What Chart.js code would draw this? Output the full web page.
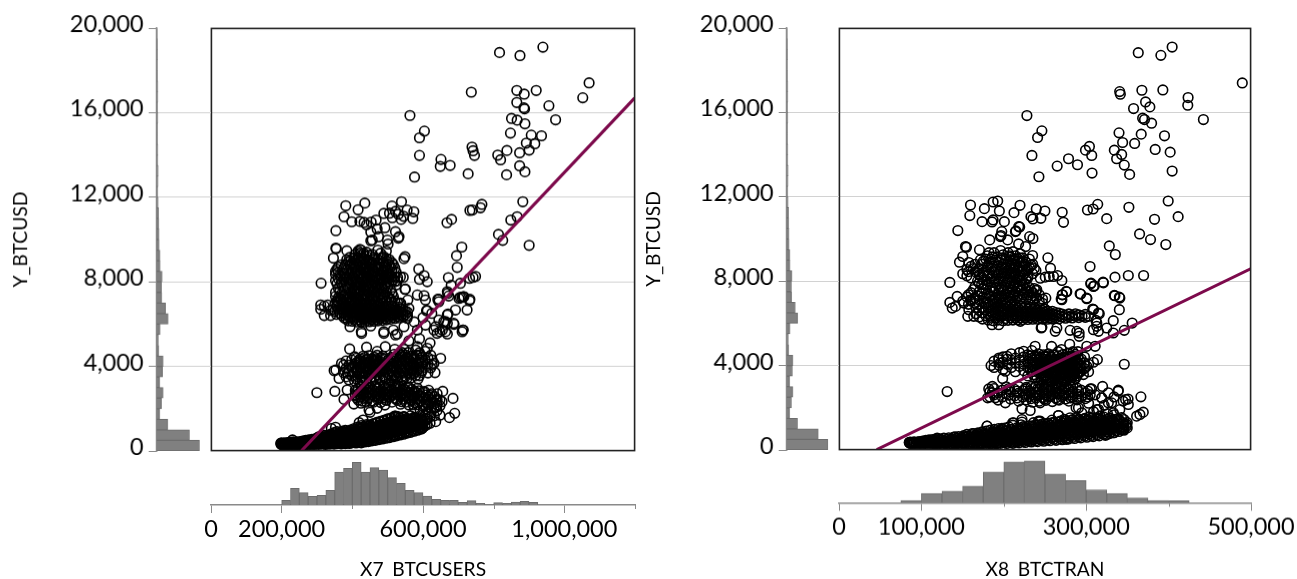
<!DOCTYPE html>
<html><head><meta charset="utf-8">
<script src="https://cdn.jsdelivr.net/npm/chart.js@4"></script>
<style>html,body{margin:0;padding:0;background:#fff;width:1297px;height:579px;overflow:hidden}canvas{position:absolute}</style>
</head><body>
<script>
// x in thousands, y in USD
const sparse7=[[817,18860],[875,18717],[940,19112],[1071,17423],[1053,16713],[737,16981],[866,17060],[887,16887],[921,17060],[866,16492],[957,16334],[886,16240],[888,16190],[976,15672],[563,15877],[604,15135],[590,14820],[590,13983],[576,12958],[851,15735],[867,15656],[889,15482],[848,15040],[907,14946],[936,14914],[917,14536],[893,14567],[901,14236],[874,14110],[838,14220],[812,13999],[820,13778],[874,13494],[889,13210],[837,13068],[739,14378],[742,14204],[746,13983],[651,13794],[649,13463],[677,13510],[728,13116],[883,11790],[867,11080],[849,10922],[814,10243],[826,9960],[901,9723],[767,11664],[763,11506],[740,11395],[733,11380],[681,10954],[668,10796],[710,9644],[695,9233],[697,8681],[749,8255],[742,8207],[732,8160],[672,8192],[680,7829],[706,7924],[670,7450],[645,7166],[706,7260],[714,7290],[733,7166],
[381,11600],[416,11411],[435,11727],[376,11080],[398,10843],[421,10860],[433,10811],[453,10827],[467,10922],[489,11237],[512,11585],[539,11790],[522,11332],[555,11395],[574,11316],[571,11000],[538,10954],[513,11032],[353,10417],[452,10354],[492,10560],[522,10370],[474,10133],[530,10070],[532,10133],[452,9944],[456,9975],[499,9975],[501,9786],[353,9596],[354,9565],[384,9470],[346,9120],[421,9533],[549,9186],[546,9091],[588,8602],[603,8287],[612,8000],[590,8113],[550,7655],[584,7372],[603,7340],[311,7930],[505,11250],[530,11200],[545,11100],[440,10700],[470,10500],
[549,7640],[607,7135],[557,7135],[537,6977],[560,6740],[610,6630],[642,7166],[669,7529],[673,7324],[702,7213],[716,7292],[692,6661],[669,6424],[645,6188],[725,6661],[687,6030],[714,5715],[636,5872],[655,5715],[607,5950],[584,5715],[659,6109],[555,6267],[546,5872],[516,5715],[669,6030],[425,5636],[393,5872],[452,5904],[489,5636],[426,5556],[489,5556],[522,5477],[527,5525],[640,5556],[669,5525],[711,5635],[711,7261],[732,7103],[671,6472],[645,7056],[612,6630],[664,6109],[688,5983],[713,5714],[664,5636],[648,5636],[631,5714],[575,6100],[600,6300],[625,6500],[590,5300],[560,5200],[620,5100],
[392,4815],[299,2747],[350,2810],[376,2432],[404,2211],[447,1927],[450,1816],[470,2006],[492,2163],[520,1643],[493,4925],[584,4925],[612,4846],[650,4373],[631,4136],[634,3694],[586,3394],[546,4799],[656,2811],[685,2479],[654,2321],[640,2163],[690,1769],[675,1564],[636,1375],[614,1848],[385,2874],[353,3820],[348,3789],[362,3426],[369,4136],[387,3663],[626,4294],[579,4768],[591,4531],[574,3900],[626,4057],[598,1059],[631,2006],[352,1106],[340,1050],[419,1327],[430,1450],[522,1643],[546,1611],[230,507],[440,4900],[520,4800],[540,4650],[470,4700]];
const dense7=[[197,[310,350]],[199,[290,370]],[202,[320,280]],[205,[350,300]],[208,[300,370]],[211,[330,290]],[214,[360,310]],[217,[300,380]],[220,[340,290]],[223,[310,400]],[226,[350,300]],[229,[290,380]],[232,[320,420]],[234,[360,300]],[237,[310,390]],[240,[340,290]],[243,[300,410]],[246,[360,310]],[249,[290,380]],[252,[330,430]],[255,[300,370]],[258,[350,450]],[261,[310,390]],[264,[290,430]],[267,[360,490,310]],[270,[320,420]],[273,[290,450]],[276,[350,510]],[279,[310,400]],[282,[300,470]],[285,[370,530]],[288,[320,440]],[291,[290,500]],[294,[380,560]],[297,[310,450]],[300,[340,600]],
[304,[300,420,530,650]],[308,[370,480,610]],[312,[310,440,560,680]],[316,[350,500,640]],[320,[320,430,590,720]],[324,[290,460,550]],[328,[380,510,660]],[332,[330,450,600,740]],[336,[310,530,690]],[340,[400,490,630,790]],[344,[340,570,720]],[348,[310,460,650,850]],[352,[380,540,760]],[356,[330,490,620,900]],[360,[420,580,740]],[364,[350,510,680,860]],[368,[320,470,610,790]],[372,[400,560,720,920]],[376,[360,490,650,830]],[380,[330,540,760,960]],[384,[430,620,870]],[388,[370,520,700,930]],[392,[340,480,650,810]],[396,[420,580,760,990]],[400,[380,530,690,880]],
[405,[420,600,780,1050]],[410,[360,510,700,920]],[415,[450,640,840,1120]],[420,[400,570,760,1010]],[425,[370,520,690,900,1190]],[430,[460,630,830,1080]],[435,[410,570,750,980]],[440,[490,680,890,1240]],[445,[430,600,800,1060]],[450,[510,720,930,1180]],[455,[460,650,840,1120]],[460,[540,760,980,1260]],[465,[490,690,890,1110]],[470,[570,800,1030,1300]],[475,[520,730,940,1180]],[480,[600,830,1070,1360]],[485,[550,770,1000,1240]],[490,[640,880,1120,1420]],[495,[590,810,1050,1290]],[500,[670,920,1170,1490]],[505,[620,860,1100,1350]],[510,[710,950,1210,1530]],[515,[660,900,1140,1410]],[520,[750,1000,1260,1570]],[525,[700,940,1190,1460]],[530,[790,1040,1300]],[535,[740,980,1230,1560]],[540,[830,1080,1340]],[545,[780,1030,1270,1600]],[550,[880,1120,1390]],[555,[830,1070,1320]],[560,[920,1160,1430]],[565,[870,1110,1370,1650]],[570,[960,1210,1480]],[575,[920,1150,1420]],[580,[1000,1250,1520]],[585,[970,1200,1460]],[590,[1060,1300,1560]],[595,[1020,1250,1400]],[600,[1110,1350]],[606,[1180,1420,1680]],[612,[1240,1500]],[620,[1300,1600]],
// band near 2,600
[408,[2600,2850]],[416,[2400,2700,2950]],[424,[2250,2550,2800,3050]],[432,[2480,2720,2950]],[440,[2300,2620,2880]],[448,[2520,2760,3000]],[456,[2350,2650,2900]],[464,[2560,2800,3080]],[472,[2420,2700,2950]],[480,[2280,2600,2840]],[488,[2500,2760,3020]],[496,[2380,2660,2900]],[504,[2550,2800,3100]],[512,[2300,2620,2880]],[520,[2480,2720,2960,3150]],[528,[2380,2660,2900]],[536,[2200,2540,2800,3020]],[544,[2440,2700,2950]],[552,[2300,2600,2850]],[560,[2160,2480,2740,3000]],[568,[2380,2640,2900]],[576,[2020,2280,2560,2820]],[584,[2180,2460,2720,2960]],[592,[1900,2340,2600]],[600,[1700,2100,2480,2780]],[608,[1980,2300,2640]],[616,[1750,2180,2540,2860]],[624,[2020,2380,2700]],[632,[1650,2240,2560]],[640,[1900,2420,2700]],[648,[1680,2120,2400]],
// lump near 4,000
[375,[3700,4050]],[382,[3500,3900,4250]],[390,[3350,3750,4050]],[398,[3550,3950,4300]],[406,[3300,3700,4100,4450]],[414,[3500,3850,4200]],[422,[3250,3620,3980,4350]],[430,[3450,3780,4120,4480]],[438,[3350,3680,4020,4300]],[446,[3550,3880,4200,4500]],[454,[3300,3650,3980,4350]],[462,[3480,3800,4120,4430]],[470,[3600,3930,4260,4520]],[478,[3350,3720,4050,4380]],[486,[3550,3870,4180,4480]],[494,[3420,3760,4090,4360]],[502,[3650,3980,4280]],[510,[3350,3780,4100,4420]],[518,[3550,3900,4240,4560]],[526,[3430,3750,4070,4380]],[534,[3620,3950,4280,4600]],[542,[3350,3780,4120,4450]],[550,[3520,3860,4200,4530]],[558,[3680,4000,4340,4650]],[566,[3450,3830,4160,4480]],[574,[3650,4050,4400]],[582,[3760,4130,4520]],[590,[3550,3950,4290,4640]],[598,[3800,4180,4450]],[606,[3950,4320,4700]],[614,[3680,4100,4400]],[622,[3920,4520]],
// lower band of the upper cluster
[345,[6700]],[350,[6600,6950]],[355,[6820,6450]],[360,[6700,7000]],[365,[6500,6850]],[370,[6950,6400,6700]],[376,[6300,6520,6660,6810,6950]],[382,[6240,6440,6600,6760,6900]],[388,[6150,6360,6550,6700,6860]],[394,[6280,6480,6640,6800,6970]],[400,[6130,6340,6520,6690,6880]],[406,[6230,6420,6590,6770,6930]],[412,[6100,6320,6490,6660,6840]],[418,[6200,6400,6560,6730,6910]],[424,[6120,6300,6470,6630,6800,6960]],[430,[6220,6390,6540,6710,6880]],[436,[6100,6280,6450,6610,6780,6940]],[442,[6190,6360,6520,6680,6850]],[448,[6110,6270,6430,6590,6750,6920]],[454,[6210,6380,6540,6700,6870]],[460,[6130,6300,6460,6620,6790,6950]],[466,[6230,6400,6560,6720,6890]],[472,[6150,6320,6480,6640,6810]],[478,[6250,6420,6580,6750,6920]],[484,[6170,6340,6500,6660,6830]],[490,[6270,6430,6600,6770]],[496,[6200,6360,6520,6690,6860]],[502,[6290,6460,6620,6790]],[508,[6230,6390,6550,6720]],[514,[6320,6480,6650,6830]],[520,[6260,6420,6580,6750]],[526,[6350,6510,6680]],[532,[6290,6450,6620,6800]],[538,[6400,6560,6720]],[544,[6340,6500,6670]],[550,[6450,6620]],[556,[6380,6560]],
// core of the upper cluster
[352,[8500,8350,8050,7500,7300]],[360,[8700,8450,8150,7700,7250,7050]],[368,[8800,8250,7950,7400,7150]],[376,[8650,8400,8100,7600,7300,7000]],[384,[9050,8550,8200,7800,7450,7150]],[392,[9150,8800,8350,7950,7650,7250,7000]],[400,[8900,8600,8300,8000,7700,7400,7100]],[408,[9300,9000,8650,8400,8150,7850,7550,7250,7050]],[416,[9450,9150,8850,8550,8250,7950,7700,7400,7150]],[424,[9500,9250,9000,8700,8450,8200,7900,7600,7300,7050]],[432,[9350,9100,8800,8550,8300,8050,7750,7450,7200]],[440,[9400,9200,8950,8650,8400,8150,7850,7550,7300,7000]],[448,[9250,9000,8700,8450,8200,7950,7650,7400,7100]],[456,[9300,8900,8600,8350,8100,7800,7500,7200]],[464,[9150,8800,8500,8250,8000,7700,7350,7050]],[472,[9500,9050,8700,8400,8150,7900,7550,7250]],[480,[9350,9000,8650,8350,8100,7850,7450,7100]],[488,[9200,8900,8550,8300,8050,7650,7300]],[496,[9450,9100,8750,8450,8150,7900,7500,7100]],[504,[9050,8800,8400,8200,8000,7250]],[512,[8900,8600,8250,8050,7450,7050]],[520,[8650,8230,8000,7100]],[528,[8200,8050,7000]],[536,[8230,6990]],[544,[8210]]];
const more7=[[303,[380,470,560]],[309,[340,450,580]],[315,[400,520]],[321,[370,480,640]],[327,[340,560,460]],[333,[410,520,650]],[339,[350,470,590]],[345,[420,540,680]],[351,[360,480,610,720]],[357,[430,550,700]],[363,[390,500,640,780]],[369,[450,570,690]],[375,[410,530,740,880]],[381,[470,600,710]],[387,[430,570,780,890]],[393,[500,620,750]],[399,[450,590,820,950]],[404,[530,670,800]],[409,[470,620,860,1000]],[414,[550,700,900]],[419,[490,650,820,1060]],[424,[580,740,950]],[429,[520,680,870,1120]],[434,[610,780,1000]],[439,[550,720,920,1180]],[444,[640,820,1040]],[449,[590,760,970,1220]],[454,[680,860,1080]],[459,[620,800,1020,1280]],[464,[720,900,1120]],[469,[660,840,1070,1340]],[474,[760,950,1170]],[479,[700,890,1120,1390]],[484,[800,1000,1220]],[489,[740,940,1170,1440]],[494,[850,1040,1260]],[499,[790,990,1220,1500]],[504,[890,1090,1310]],[509,[830,1030,1270,1540]],[514,[930,1130,1350]],[519,[880,1080,1320,1590]],[524,[970,1180,1400]],[529,[920,1120,1360,1620]],[534,[1020,1220,1440]],[539,[960,1170,1400]],[544,[1060,1260,1480]],[549,[1010,1210,1440]],[554,[1110,1310,1530]],[559,[1050,1260,1480]],[564,[1150,1350]],[569,[1100,1300,1530]],[574,[1190,1390]],[579,[1140,1340,1570]],[584,[1230,1430]],[589,[1180,1380]],[594,[1280,1470]],[599,[1230,1420]],
[411,[3400,3780,4150,4380]],[419,[3620,3980,4280]],[427,[3320,3700,4050]],[435,[3520,3900,4220,4420]],[443,[3720,3990,4350]],[451,[3450,3820,4120]],[459,[3680,3950,4280]],[467,[3380,3730,4080,4360]],[475,[3580,3870,4190]],[483,[3780,4020,4400]],[491,[3480,3820,4130]],[507,[3580,3900,4200]],[515,[3720,4020,4380]],[523,[3480,3820,4150]],[531,[3700,4000,4330]],[539,[3500,3880,4200,4520]],[547,[3680,3980,4300]],[555,[3430,3780,4120,4420]],[563,[3620,3930,4260]],[571,[3780,4080,4500]],[579,[3550,3950,4300]],[587,[3850,4200]],[595,[3700,4100,4380]],
[412,[2500,2780]],[428,[2350,2650,2900]],[444,[2450,2720,2980]],[460,[2300,2600,2860]],[476,[2500,2780,3030]],[492,[2420,2700,2960]],[508,[2560,2830,3000]],[524,[2440,2780,3060]],[540,[2320,2620,2880]],[556,[2520,2780,2960]],[572,[2180,2500,2760]],[588,[2300,2600,2840]],[604,[2180,2520,2800]],[620,[2280,2620]],[636,[2030,2400]],
[356,[8600,7900,7100]],[364,[8300,7550,7200]],[372,[8550,8000,7300]],[380,[8800,8250,7700,7150]],[388,[8950,8400,7700,7300]],[396,[9000,8450,8100,7500,7150]],[404,[9100,8750,8200,7600,7300]],[412,[8800,8500,8000,7650,7200]],[420,[9350,8950,8350,7800,7500]],[428,[9100,8600,8100,7750,7200]],[436,[8900,8450,7950,7650,7350]],[444,[9050,8550,8050,7700,7200]],[452,[8850,8300,7900,7350]],[460,[9050,8500,8000,7600,7300]],[468,[8650,8200,7850,7500]],[476,[8850,8550,8050,7700,7400]],[484,[9150,8450,8200,7750,7250]],[492,[8700,8200,7800,7400]],[500,[8950,8600,8250,7750,7300]],[508,[8700,8300,7600,7150]],[516,[8800,8100,7300]],[524,[8450,7850]],[330,[6900]],[338,[6650,6400]],[310,[6700,6900]],[320,[6400,6850]]];

const sparse8=[[363.4,18846],[390.9,18720],[404.6,19115],[489.9,17410],[424,16715],[423.6,16352],[442.6,15672],[340.8,16999],[341.6,16873],[367.8,17062],[393.3,17078],[372.3,16509],[377.5,16273],[357.7,16194],[368.7,15736],[371,15672],[379.6,15499],[340,15040],[367,14978],[395.3,14899],[344.4,14583],[359,14536],[334.3,14220],[384,14252],[402.2,14125],[343.2,14015],[337.1,13810],[346.4,13509],[352.9,13067],[404.6,13225],[228,15862],[246.2,15136],[241,14820],[234.1,13967],[242.6,12957],[264.8,13462],[278.6,13810],[289.5,13525],[299.2,14220],[304,14394],[306.8,13967],[307.2,13130],
[399.8,11804],[352,11504],[411.9,11062],[383.2,10936],[325,10967],[314.1,11646],[308.5,11425],[301.6,11378],[270.9,11267],[272.5,10793],[249.9,11330],[239.4,11425],[245,10983],[232.9,11062],[235.3,10951],[219.6,11599],[212.3,11251],[192.5,11804],[186.9,11757],[176.3,11441],[194.5,11330],[200.6,10825],[186.9,10904],[185.6,10809],[173.5,10825],[219.2,10572],[214.7,10383],[197.4,10351],[365,10241],[378.3,9972],[396.9,9735],[328.2,9672],[335.5,9262],[304.8,8693],[253.5,9104],[234.9,9214],[231.3,10114],[235.3,10020],[226.4,9641],[217.9,9767],[204.6,9957],[195.7,10114],[182.8,9957],[256.7,8614],[265.2,8267],[260.4,8220],[255.1,8220],[250.3,8188],[244.2,8140],[229.3,8251],[270.5,8030],[335.1,8188],[351.3,8267],[369.9,8267],[321,7920],[310,7778],[305.6,7872],[276.5,7493],[270.9,7351],[293.5,7383],[300.8,7193],[334.3,7320],[340.4,7241],
[159.4,11615],[158.6,11110],[144,10400],[218,10589],[214,10352],[196.5,10163],[153.3,9642],[154.5,9610],[170.3,9484],[150,9168],[146,8900],[157.4,8884],[171.5,9010],[134.3,7936],[306,7905],[308.9,7747],[320.6,7952],[275.7,7510],[271.3,7352],[269.7,7147],[251,7194],[240,7589],[143.2,7273],[134.3,6989],[137.2,6721],[141.2,6800],[151.3,6957],[159.4,7115],[157.4,6642],[156.1,6326],[163.4,6326],[308,6673],[316,6452],[312,6136],[246.2,5805],[264.4,5773],[185.6,5931],[193.7,5931],[220,6089],[280.6,5663],[288.7,5615],[308.9,5694],[312.9,5852],[325,5773],[262.4,5615],
[335,7305],[341,7194],[340.4,6642],[333,6120],[315,6484],[309,6642],[313,6010],[315,5615],[356,6010],[346.4,5663],[333,5536],[346.4,4052],[300.8,4905],[311,4905],[292.7,7400],[300.8,7163],[270.5,7115],[245.4,5773],[291.5,5536],[291.5,5378],[313.7,4273],[308.9,4147],[300.8,3957],[296.7,3563],
[339.2,2820],[366.6,2505],[348,2378],[351.3,2142],[369.5,1778],[365.4,1668],[361.4,1589],[349.3,1115],[345,957],[306.8,2883],[288.7,2931],[319,2457],[331,2220],[315,1905],[290.7,1984],[266.4,1620],[275.7,484],[325,720],[333,800],[179.6,1115],[197.8,957],[210.7,1273],[222,1305],[244.2,1352],
[184.4,3989],[193.7,4273],[195.5,4110],[203.8,4431],[238,4904],[224,4668],[201.8,3720],[198.5,3373],[131,2757],[181.6,2883],[180.3,2457],[189.6,2457],[201.8,2220],[222,1936],[232,1857],[244,2220],[287.8,1983],[258,4900],[270,4750],[290,4650],[280,5000],
[318.9,2457],[313,1905],[327,2220],[333,1747],[339,2772],[345,2300],[351,2400],[317,1600],[337,1430],[349,1200],[345,957],[285,3300],[320,3000],[327,2700],[334,2500],[311,2600],[322,2100],[341,1900],[329,1500],[309,1800],[303,2200],[118.9,550],[141,600],[161.4,760],[179.5,1115],[197.7,1004],[211.9,1273],[222,1430],[242,1352],[266.4,1620],[280.5,1510],[294.7,1747]];
const dense8=[[85,[320,350]],[86.5,[290,360]],[88,[330,300]],[89.5,[350,310]],[91,[300,370]],[93,[330,290]],[95,[360,310]],[97,[300,380]],[99,[340,290]],[101,[310,400]],[103,[350,300]],[105,[290,380,440]],[107,[320,420]],[109,[360,300,460]],[111,[310,390]],[113,[340,290,480]],[115,[300,410]],[117,[360,260,470]],[119,[290,380,520]],[121,[330,430]],[123,[300,370,500]],[125,[250,350,450]],[127,[310,390,550]],[129,[290,430]],[131,[360,490,310]],[133,[250,420,560]],[135,[290,450]],[137,[350,510,270]],[139,[310,400,590]],[141,[260,470]],[143,[370,530,300]],[145,[320,440,620]],[147,[250,500]],[149,[380,560,290]],[151,[310,450,660]],[153,[260,340,600]],[155,[400,520,720]],[157,[290,450,640]],[159,[260,370,580]],[161,[330,500,700]],
[163.5,[280,420,620,760]],[166,[350,540,680]],[168.5,[260,450,600,790]],[171,[310,500,720]],[173.5,[270,430,630,840]],[176,[360,560,760]],[178.5,[290,470,680,880]],[181,[330,530,800]],[183.5,[270,440,640,930]],[186,[370,590,770]],[188.5,[310,500,700,960]],[191,[280,430,630,850]],[193.5,[350,560,760,1000]],[196,[300,480,680,900]],[198.5,[380,590,810]],[201,[330,520,720,1020]],[203.5,[290,450,660,880]],[206,[400,600,830,1080]],[208.5,[340,530,740,960]],[211,[300,480,680,1160]],[213.5,[420,630,870]],[216,[360,560,780,1040]],[218.5,[320,500,720,950]],[221,[440,660,900,1180]],[223.5,[380,590,810,1090]],[226,[340,520,750,1000]],[228.5,[460,690,930]],[231,[400,620,850,1130]],[233.5,[360,550,780,1040]],[236,[480,720,970,1280]],[238.5,[420,650,880,1180]],[241,[380,590,810,1080]],[243.5,[510,750,1010,1330]],[246,[450,680,920,1210]],[248.5,[400,620,860,1120]],[251,[530,780,1040]],[253.5,[470,710,950,1260]],[256,[420,650,890,1170]],[258.5,[560,810,1080,1400]],[261,[490,740,990,1300]],[263.5,[440,680,930,1210]],[266,[590,840,1110]],[268.5,[520,770,1030,1350]],[271,[470,720,970,1260]],[273.5,[620,870,1150,1440]],[276,[550,800,1060,1380]],[278.5,[500,750,1000,1290]],[281,[650,900,1180]],[283.5,[580,830,1100,1420]],[286,[530,780,1030,1330]],[288.5,[680,930,1210,1510]],[291,[610,860,1130,1450]],[293.5,[560,810,1060,1360]],[296,[710,960,1240]],[298.5,[640,890,1160,1480]],[301,[590,840,1100,1400]],[303.5,[740,990,1270,1550]],[306,[670,920,1190]],[308.5,[620,870,1130,1430]],[311,[770,1020,1300]],[313.5,[700,950,1220,1510]],[316,[650,900,1170,1470]],[318.5,[800,1050,1340]],[321,[730,980,1250,1560]],[323.5,[680,930,1200]],[326,[830,1080,1370,1700]],[328.5,[760,1010,1280]],[331,[860,1120,1420]],[334,[800,1050,1320,1650]],[337,[900,1160,1450]],[340,[860,1120,1380]],[343,[960,1210,1520]],[346,[920,1170,1430]],[350,[1030,1280]],
// band near 2,700
[183,[2500,2750]],[188,[2600,2900]],[193,[2350,2700]],[198,[2500,2820]],[203,[2650,2980]],[208,[2400,2750]],[213,[2550,2860]],[218,[2300,2680,3000]],[223,[2500,2800]],[227,[2350,2650,2950]],[231,[2520,2780]],[235,[2250,2600,2900]],[239,[2450,2720,3020]],[243,[2300,2580,2850]],[247,[2480,2760,3060]],[251,[2340,2620,2900]],[255,[2500,2780,3100]],[259,[2280,2600,2880]],[263,[2450,2720,3000]],[267,[2350,2640,2930]],[271,[2520,2800,3100]],[275,[2400,2680,2960]],[279,[2300,2580,2850]],[284,[2480,2760,3050]],[289,[2360,2640]],[294,[2520,2820]],[299,[2420,2700]],[305,[2600,2880]],
// lump near 4,000
[188,[3900,4200]],[194,[4000,4350]],[199,[3800,4150,4400]],[204,[4050,4300]],[209,[3900,4250,4550]],[214,[3700,4100,4350]],[219,[3950,4250,4600]],[224,[3750,4050,4400]],[229,[3500,3900,4200,4500]],[234,[3700,4050,4350,4700]],[238,[3400,3850,4150,4450]],[242,[3650,3950,4250,4550]],[245,[3300,3600,3850,4150,4400]],[248,[3450,3750,4000,4300,4500]],[251,[3250,3550,3900,4150,4450]],[254,[3400,3700,4000,4250,4550]],[257,[3200,3600,3850,4100,4400]],[260,[3350,3650,3950,4200,4500]],[263,[3150,3500,3800,4050,4300]],[266,[3350,3700,3950,4200,4450,4650]],[269,[3200,3550,3850,4100,4350]],[272,[3400,3700,3980,4250,4520]],[275,[3250,3600,3900,4120,4400]],[278,[3450,3750,4000,4300,4580]],[281,[3300,3650,3950,4180,4450]],[284,[3550,3820,4080,4350,4650]],[287,[3380,3700,4000,4280,4520]],[290,[3620,3880,4150,4420]],[294,[3720,4000,4300]],[298,[3850,4120,4400]],[303,[3700,4050]],
// lower band of the upper cluster
[166,[6450,6750]],[170,[6300,6600,6900]],[174,[6200,6500,6750]],[178,[6350,6650,6950]],[181,[6150,6450,6700,6880]],[184,[6280,6560,6800]],[187,[6120,6400,6650,6920]],[190,[6250,6500,6750]],[193,[6150,6400,6620,6860]],[196,[6280,6530,6760,6950]],[199,[6120,6380,6600,6820]],[202,[6230,6460,6700,6900]],[205,[6140,6350,6570,6790]],[208,[6260,6480,6680,6880]],[211,[6150,6360,6560,6760]],[214,[6250,6440,6640,6840]],[217,[6160,6340,6530,6730]],[220,[6260,6430,6610,6800]],[223,[6170,6340,6510,6700]],[226,[6260,6420,6590,6760]],[229,[6180,6340,6500,6670]],[232,[6270,6420,6570,6740]],[235,[6190,6340,6490,6650]],[238,[6280,6420,6560,6710]],[241,[6190,6340,6480,6630]],[244,[6270,6410,6550,6690]],[247,[6200,6340,6470,6600]],[250,[6260,6400,6530,6670]],[253,[6190,6320,6450,6580]],[256,[6250,6380,6510]],[259,[6200,6320,6440,6570]],[263,[6260,6390,6510]],[267,[6210,6350,6480]],[271,[6300,6430]],[275,[6240,6380]],[279,[6310,6440]],[283,[6250,6370]],[287,[6330,6450]],[291,[6270,6400]],[295,[6340]],[299,[6280,6420]],[303,[6330]],
// core of the upper cluster
[150,[8350,7050]],[155,[8550,8250,7250]],[160,[8700,8150,7450,7050]],[165,[8800,8450,7750,7200,6950]],[170,[8600,8300,7900,7500,7100]],[175,[8950,8400,8050,7650,7250]],[180,[9200,8700,8250,7850,7400,7000]],[184,[9050,8550,8100,7700,7250]],[188,[9350,8850,8450,7950,7500,7100]],[192,[9150,8700,8300,7850,7350,7000]],[196,[9450,9000,8550,8150,7650,7200]],[199,[9250,8800,8400,8000,7550,7100]],[202,[9050,8650,8250,7800,7400,7000]],[205,[9350,8950,8500,8100,7650,7250]],[208,[9150,8750,8350,7900,7450,7050]],[211,[9400,9000,8600,8200,7700,7300]],[214,[9200,8800,8400,7950,7500,7100]],[217,[9050,8650,8250,7750,7300]],[220,[9300,8900,8450,8050,7550,7150]],[223,[9100,8700,8300,7800,7350]],[227,[8900,8500,8100,7600,7150]],[231,[9050,8650,7700,7350]],[235,[8800,8350,7450,7100]],[239,[8500,7550,7200]],[243,[7350,7050]],[247,[7150,6950]]];
const more8=[[162,[360,470,590]],[166,[300,440,620]],[170,[390,510,660]],[174,[330,470,590]],[178,[420,560,720]],[182,[360,490,640]],[186,[300,450,620,830]],[190,[400,550,720]],[194,[340,480,640,860]],[198,[430,590,760]],[202,[370,520,680,900]],[206,[470,640,800]],[210,[390,560,720,950]],[214,[500,670,860]],[218,[420,600,780,1000]],[222,[530,710,900]],[226,[450,640,830,1060]],[230,[560,750,950]],[234,[480,680,880,1110]],[238,[590,790,1000]],[242,[520,720,930,1160]],[246,[620,830,1050]],[250,[550,760,980,1220]],[254,[660,870,1100]],[258,[590,800,1020,1270]],[262,[700,910,1130]],[266,[630,840,1060,1310]],[270,[740,950,1180]],[274,[670,880,1100,1350]],[278,[780,990,1220]],[282,[710,920,1140,1390]],[286,[820,1030,1260]],[290,[750,960,1190,1420]],[294,[860,1070,1300]],[298,[790,1000,1230,1460]],[302,[900,1110,1340]],[306,[830,1040,1270,1490]],[310,[930,1140,1370]],[314,[870,1080,1310]],[318,[970,1180,1400]],[322,[910,1120,1350]],[326,[1000,1220,1440]],[330,[950,1160,1380]],[335,[1040,1260]],[340,[1000,1210,1430]],[345,[1060,1280]],
[232,[3800,4150,4450]],[236,[3550,3950,4250]],[240,[3450,3800,4100,4400]],[244,[3700,4000,4320]],[247,[3350,3650,3950,4220]],[250,[3520,3830,4080,4400]],[253,[3300,3650,3950,4200]],[256,[3480,3780,4050,4320]],[259,[3250,3580,3920,4150]],[262,[3430,3720,4020,4280]],[265,[3280,3600,3880,4130]],[268,[3450,3780,4030,4300]],[271,[3320,3620,3920,4180]],[274,[3500,3820,4060,4350]],[277,[3360,3680,3960,4220]],[280,[3540,3860,4100,4400]],[283,[3430,3730,4010,4270]],[286,[3600,3920,4200,4420]],[289,[3500,3800,4080]],[292,[3680,3950,4250]],
[186,[2700,3000]],[206,[2580,2900]],[216,[2450,2780]],[226,[2580,2880]],[233,[2420,2700,3000]],[241,[2550,2880]],[249,[2400,2700,2980]],[257,[2550,2850]],[265,[2380,2680,2950]],[273,[2600,2880]],[281,[2450,2720,3000]],[291,[2480,2760]],[302,[2500,2780]],
[157,[8450,7350,6900]],[163,[8600,7600,7150]],[168,[8500,8000,7300]],[173,[8800,8200,7850,7400]],[178,[9050,8500,8050,7600,7200]],[182,[9350,8850,8350,7950,7300]],[186,[9150,8700,8250,7600,7100]],[190,[9000,8550,8100,7700,7200]],[194,[8900,8400,8000,7550,7150]],[198,[9100,8650,8250,7700,7300]],[204,[8800,8350,7950,7550]],[207,[9200,8600,8200,7750,7200]],[210,[8800,8400,8000,7600]],[213,[9050,8650,8250,7800,7350]],[216,[8950,8500,8100,7650,7200]],[219,[9100,8700,8200,7750]],[222,[8950,8500,8050,7600,7250]],[225,[8800,8350,7900,7450]],[229,[8550,8150,7500,7250]],[233,[8750,7550,7200]],[237,[8600,7650,7300]]];

const Y_HIST=[42.5,32.5,11,3,4.7,6.3,3,5.7,6.3,2,1.5,3.3,11.3,8.7,5,4.7,5.3,3.3,3.2,2.3,2.2,2,1.8,1.3,1,1.2,1.3,1,1,0.8,0.8,1,0.8,1,1,0.6,0.5,0.7,0.6,0.3];
const X7_HIST=[4.7,16.7,12.3,8.7,9.7,14.7,33,36.7,42.7,33,37.3,35,27.3,21.7,14.7,12.3,9,5.7,4.7,4.7,2.7,4.3,1.7,0.3,2.3,1.7,3,3.7,2.7];
const X8_HIST=[2.3,9.3,11.7,16.7,31,41,42,29,22.3,13,9.3,4.7,2.3,2];
const Y_TICKS=[0,4000,8000,12000,16000,20000];
const FIT7=[[256,0],[1200,16700]];
const FIT8=[[45.4,0],[500,8584]];

const LABEL_FONT={family:'Lato',size:23.5};
const GRID='#d2d2d2',AXIS='#8a8a8a',BAR='#808080',BAR_EDGE='#6c6c6c',FIT='#7d0a4c';
Chart.defaults.animation=false;Chart.defaults.responsive=false;Chart.defaults.plugins.legend.display=false;Chart.defaults.plugins.tooltip.enabled=false;Chart.defaults.color='#000';

function canvas(l,t,w,h){const c=document.createElement('canvas');c.width=w;c.height=h;c.style.left=l+'px';c.style.top=t+'px';c.style.width=w+'px';c.style.height=h+'px';document.body.appendChild(c);return c;}
const fmt=v=>Number(v).toLocaleString('en-US');
const gridColor=c=>(c.tick&&c.tick.value%20000!==0?GRID:'transparent');
const frame={id:'frame',afterDatasetsDraw(ch){const a=ch.chartArea,c=ch.ctx;c.save();c.strokeStyle='#222';c.lineWidth=1.6;c.strokeRect(a.left,a.top,a.right-a.left,a.bottom-a.top);c.restore();}};
const shortTicks={id:'shortTicks',afterDraw(ch){const s=ch.scales.x,c=ch.ctx;c.save();c.strokeStyle=AXIS;c.lineWidth=1;s.ticks.forEach(t=>{if(!t.label){const p=Math.round(s.getPixelForValue(t.value))+.5;c.beginPath();c.moveTo(p,s.top);c.lineTo(p,s.top+4);c.stroke();}});c.restore();}};

function panel(o){
  const pts=[];
  o.sparse.forEach(p=>pts.push({x:p[0]*1000,y:p[1]}));
  o.dense.forEach(col=>col[1].forEach(y=>pts.push({x:col[0]*1000,y})));
  o.more.forEach(col=>col[1].forEach(y=>pts.push({x:col[0]*1000,y})));
  const m=6;
  new Chart(canvas(o.L-m,o.T-m,o.R-o.L+2*m,o.B-o.T+2*m),{type:'scatter',plugins:[frame],
    data:{datasets:[
      {type:'line',data:o.fit.map(p=>({x:p[0]*1000,y:p[1]})),borderColor:FIT,borderWidth:3,pointRadius:0,order:0},
      {data:pts,pointRadius:4.8,pointBorderWidth:1.6,pointBorderColor:'#000',pointBackgroundColor:'transparent',showLine:false,order:1}]},
    options:{layout:{padding:m},scales:{
      x:{type:'linear',min:0,max:o.xMax,display:false},
      y:{type:'linear',min:0,max:20000,afterBuildTicks:s=>{s.ticks=Y_TICKS.map(v=>({value:v}));},border:{display:false},ticks:{display:false},grid:{color:gridColor,drawTicks:false,lineWidth:1}}}}});
  const yl=o.TX;
  new Chart(canvas(yl,o.T-20,o.L-yl+2,o.B-o.T+40),{type:'bar',
    data:{datasets:[{data:Y_HIST.map((v,i)=>({x:v,y:i*500+250})),backgroundColor:BAR,borderColor:BAR_EDGE,borderWidth:1,barPercentage:1,categoryPercentage:1}]},
    options:{indexAxis:'y',layout:{padding:{top:20,bottom:20,right:2,left:0}},scales:{
      x:{type:'linear',min:0,max:54,display:false},
      y:{type:'linear',min:0,max:20000,offset:false,afterFit:s=>{s.width=o.H-yl;},afterBuildTicks:s=>{s.ticks=Y_TICKS.map(v=>({value:v}));},
         title:{display:true,text:'Y_BTCUSD',font:{family:'Lato',size:19.2},color:'#000',padding:0},border:{color:AXIS,width:1.5},
         grid:{offset:false,color:gridColor,tickColor:AXIS,tickLength:8,lineWidth:1},
         ticks:{font:{...LABEL_FONT,lineHeight:'7px'},padding:5,color:'#000',autoSkip:false,callback:v=>[fmt(v),'']}}}}});
  const bl=o.L-60,br=o.R+62;
  new Chart(canvas(bl,o.HB-50,br-bl,577-(o.HB-50)),{type:'bar',plugins:[shortTicks],
    data:{datasets:[{data:o.xHist.map((v,i)=>({x:o.xStart+i*25000+12500,y:v})),backgroundColor:BAR,borderColor:BAR_EDGE,borderWidth:1,barPercentage:1,categoryPercentage:1}]},
    options:{layout:{padding:{left:60,right:62,top:0,bottom:0}},scales:{
      y:{type:'linear',min:0,max:50,display:false},
      x:{type:'linear',min:0,max:o.xMax,offset:false,afterBuildTicks:s=>{s.ticks=o.xTicks.map(v=>({value:v}));},afterFit:s=>{s.height=577-o.HB;},border:{color:AXIS,width:1.5},
         grid:{offset:false,drawOnChartArea:false,tickLength:8,tickColor:c=>(c.tick&&o.xLabels.includes(c.tick.value)?AXIS:'transparent')},
         ticks:{font:LABEL_FONT,padding:2,color:'#000',autoSkip:false,maxRotation:0,callback:v=>(o.xLabels.includes(v)?fmt(v):'')},
         title:{display:true,text:o.xTitle,font:{family:'Lato',size:19.2},color:'#000',padding:{top:7,bottom:-4}}}}}});
}
panel({L:210.5,R:634.5,T:28.3,B:450.7,H:156,HB:505,TX:9,xMax:1200000,sparse:sparse7,dense:dense7,more:more7,fit:FIT7,xHist:X7_HIST,xStart:200000,xTicks:[0,200000,400000,600000,800000,1000000,1200000],xLabels:[0,200000,600000,1000000],xTitle:'X7_BTCUSERS'});
panel({L:838.5,R:1251,T:28,B:450.2,H:786,HB:503.3,TX:642,xMax:500000,sparse:sparse8,dense:dense8,more:more8,fit:FIT8,xHist:X8_HIST,xStart:75000,xTicks:[0,100000,200000,300000,400000,500000],xLabels:[0,100000,300000,500000],xTitle:'X8_BTCTRAN'});
</script>
</body></html>
